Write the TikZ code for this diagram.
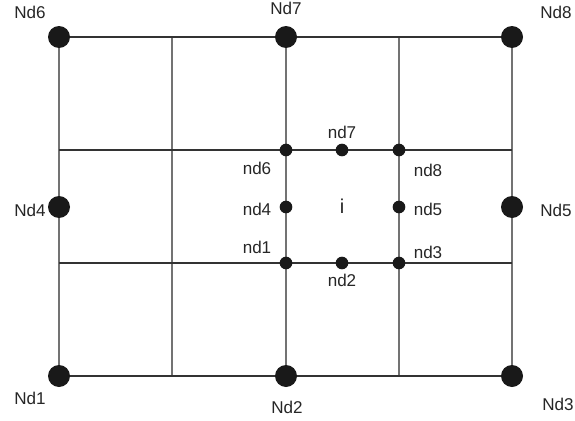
\documentclass[tikz,border=0pt]{standalone}
\usepackage{fontspec}
\setmainfont{Liberation Sans}
\begin{document}
\begin{tikzpicture}[x=0.75pt,y=-0.75pt,
  big/.style={circle,fill=black!90,inner sep=0pt,minimum size=16.5pt},
  small/.style={circle,fill=black!90,inner sep=0pt,minimum size=9.5pt},
  lbl/.style={inner sep=0pt,font=\fontsize{12.8pt}{14pt}\selectfont,text=black!85},
  vline/.style={draw=black!55,line width=0.9pt},
  hline/.style={draw=black!80,line width=0.9pt}]
\useasboundingbox (0,0) rectangle (575,421);
% grid coordinates
\foreach \x/\n in {59/a,172/b,286/c,399/d,512/e}{
  \coordinate (t\n) at (\x,37);
  \coordinate (b\n) at (\x,376);
}
\foreach \y/\n in {37/a,150/b,263/c,376/d}{
  \coordinate (l\n) at (59,\y);
  \coordinate (r\n) at (512,\y);
}
\foreach \n in {a,b,c,d,e}{\draw[vline] (t\n) -- (b\n);}
\foreach \n in {a,b,c,d}{\draw[hline] (l\n) -- (r\n);}
% big nodes
\node[big] (Nd6) at (59,37) {};
\node[big] (Nd7) at (286,37) {};
\node[big] (Nd8) at (512,37) {};
\node[big] (Nd4) at (59,207) {};
\node[big] (Nd5) at (512,207) {};
\node[big] (Nd1) at (59,376) {};
\node[big] (Nd2) at (286,376) {};
\node[big] (Nd3) at (512,376) {};
% small nodes
\node[small] (nd6) at (286,150) {};
\node[small] (nd7) at (342,150) {};
\node[small] (nd8) at (399,150) {};
\node[small] (nd4) at (286,207) {};
\node[small] (nd5) at (399,207) {};
\node[small] (nd1) at (286,263) {};
\node[small] (nd2) at (342,263) {};
\node[small] (nd3) at (399,263) {};
% labels
\node[lbl] (LNd6) at (30,12) {Nd6};
\node[lbl] (LNd7) at (286,8) {Nd7};
\node[lbl] (LNd8) at (556,12) {Nd8};
\node[lbl] (LNd4) at (30,210) {Nd4};
\node[lbl] (LNd5) at (556,210) {Nd5};
\node[lbl] (LNd1) at (30,398) {Nd1};
\node[lbl] (LNd2) at (287,407) {Nd2};
\node[lbl] (LNd3) at (558,404) {Nd3};
\node[lbl] (Lnd7) at (342,132) {nd7};
\node[lbl] (Lnd6) at (257,168) {nd6};
\node[lbl] (Lnd8) at (428,170) {nd8};
\node[lbl] (Lnd4) at (257,209) {nd4};
\node[lbl] (Lnd5) at (428,209) {nd5};
\node[lbl] (Lnd1) at (257,247) {nd1};
\node[lbl] (Lnd3) at (428,252) {nd3};
\node[lbl] (Lnd2) at (342,280) {nd2};
\node[lbl,font=\fontsize{15pt}{16pt}\selectfont] (Li) at (342,206) {i};
\end{tikzpicture}
\end{document}
